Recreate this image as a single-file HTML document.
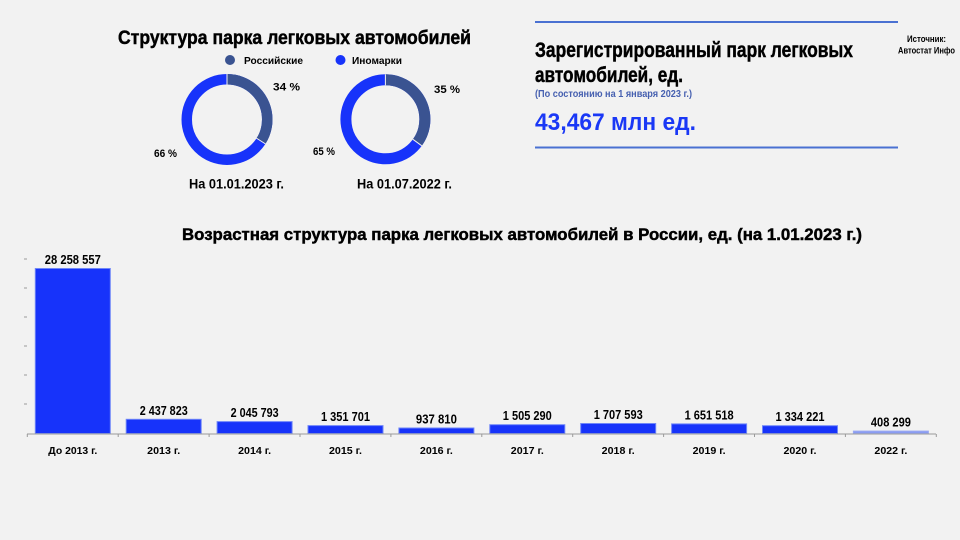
<!DOCTYPE html>
<html><head><meta charset="utf-8"><style>
html,body{margin:0;padding:0;background:#f2f2f2;}
svg{display:block;}
text{font-family:"Liberation Sans",sans-serif;font-weight:bold;fill:#000;}
.heavy{stroke:#000;stroke-width:0.45;}
</style></head><body>
<svg width="960" height="540" viewBox="0 0 960 540" xmlns="http://www.w3.org/2000/svg">
<rect width="960" height="540" fill="#f2f2f2"/>

<!-- Top-left title -->
<text class="heavy" x="118" y="44" font-size="19" textLength="353" lengthAdjust="spacingAndGlyphs">Структура парка легковых автомобилей</text>

<!-- Legend -->
<circle cx="230" cy="60" r="5" fill="#3a5391"/>
<text x="244" y="64" font-size="10.5" textLength="59" lengthAdjust="spacingAndGlyphs">Российские</text>
<circle cx="340.5" cy="60" r="5" fill="#1733fa"/>
<text x="352" y="64" font-size="10.5" textLength="50" lengthAdjust="spacingAndGlyphs">Иномарки</text>

<!-- Donut 1 -->
<circle cx="227" cy="119.5" r="40.25" fill="none" stroke="#1733fa" stroke-width="10.5"/>
<circle cx="227" cy="119.5" r="40.25" fill="none" stroke="#3a5391" stroke-width="10.5" stroke-dasharray="85.99 300" transform="rotate(-90 227 119.5)"/>
<line x1="227" y1="74" x2="227" y2="84.5" stroke="#f2f2f2" stroke-width="1"/>
<line x1="256.55" y1="138.25" x2="265.42" y2="143.88" stroke="#f2f2f2" stroke-width="1"/>
<text x="273" y="90.5" font-size="11" textLength="27" lengthAdjust="spacingAndGlyphs">34 %</text>
<text x="154" y="157" font-size="11" textLength="23" lengthAdjust="spacingAndGlyphs">66 %</text>
<text x="189" y="188.5" font-size="14" textLength="95" lengthAdjust="spacingAndGlyphs">На 01.01.2023 г.</text>

<!-- Donut 2 -->
<circle cx="385.4" cy="119.3" r="39.5" fill="none" stroke="#1733fa" stroke-width="11"/>
<circle cx="385.4" cy="119.3" r="39.5" fill="none" stroke="#3a5391" stroke-width="11" stroke-dasharray="86.86 300" transform="rotate(-90 385.4 119.3)"/>
<line x1="385.4" y1="74.3" x2="385.4" y2="85.3" stroke="#f2f2f2" stroke-width="1"/>
<line x1="412.9" y1="139.3" x2="421.8" y2="145.8" stroke="#f2f2f2" stroke-width="1"/>
<text x="434" y="93" font-size="11" textLength="26" lengthAdjust="spacingAndGlyphs">35 %</text>
<text x="313" y="155" font-size="11" textLength="22" lengthAdjust="spacingAndGlyphs">65 %</text>
<text x="357" y="188.5" font-size="14" textLength="95" lengthAdjust="spacingAndGlyphs">На 01.07.2022 г.</text>

<!-- Right panel -->
<rect x="535" y="21" width="363" height="2" fill="#4a71d2"/>
<rect x="535" y="146.5" width="363" height="2" fill="#4a71d2"/>
<text class="heavy" x="535" y="57" font-size="21" textLength="318" lengthAdjust="spacingAndGlyphs">Зарегистрированный парк легковых</text>
<text class="heavy" x="535" y="82" font-size="21" textLength="148" lengthAdjust="spacingAndGlyphs">автомобилей, ед.</text>
<text x="535" y="97" font-size="10" style="fill:#4660b0" textLength="157" lengthAdjust="spacingAndGlyphs">(По состоянию на 1 января 2023 г.)</text>
<text x="535" y="130" font-size="24" style="fill:#1a38f6" textLength="161" lengthAdjust="spacingAndGlyphs">43,467 млн ед.</text>

<text x="907" y="42" font-size="9" textLength="39" lengthAdjust="spacingAndGlyphs">Источник:</text>
<text x="898" y="53.5" font-size="9" textLength="57" lengthAdjust="spacingAndGlyphs">Автостат Инфо</text>

<!-- Bar chart title -->
<text class="heavy" x="182" y="240" font-size="17" textLength="680" lengthAdjust="spacingAndGlyphs">Возрастная структура парка легковых автомобилей в России, ед. (на 1.01.2023 г.)</text>

<!-- Y ticks -->
<g stroke="#9a9a9a" stroke-width="1">
<line x1="24" y1="259" x2="27" y2="259"/>
<line x1="24" y1="288" x2="27" y2="288"/>
<line x1="24" y1="317" x2="27" y2="317"/>
<line x1="24" y1="346" x2="27" y2="346"/>
<line x1="24" y1="375" x2="27" y2="375"/>
<line x1="24" y1="404" x2="27" y2="404"/>
</g>

<!-- Bars -->
<g stroke="#6f86f8" stroke-width="1">
<rect x="35.3" y="268.5" width="75" height="165" fill="#1733fa"/>
<rect x="126.2" y="419.3" width="75" height="14.2" fill="#1733fa"/>
<rect x="217.1" y="421.6" width="75" height="11.9" fill="#1733fa"/>
<rect x="308" y="425.6" width="75" height="7.9" fill="#1733fa"/>
<rect x="398.9" y="428" width="75" height="5.5" fill="#1733fa"/>
<rect x="489.8" y="424.7" width="75" height="8.8" fill="#1733fa"/>
<rect x="580.7" y="423.5" width="75" height="10" fill="#1733fa"/>
<rect x="671.6" y="423.9" width="75" height="9.6" fill="#1733fa"/>
<rect x="762.5" y="425.7" width="75" height="7.8" fill="#1733fa"/>
<rect x="853.4" y="431.1" width="75" height="2.4" fill="#8a9cf2" stroke="#9aa9f3"/>
</g>

<!-- X axis -->
<g stroke="#9a9a9a" stroke-width="1">
<line x1="27" y1="434" x2="936" y2="434"/>
<line x1="27.3" y1="434" x2="27.3" y2="437"/>
<line x1="118.2" y1="434" x2="118.2" y2="437"/>
<line x1="209.1" y1="434" x2="209.1" y2="437"/>
<line x1="300" y1="434" x2="300" y2="437"/>
<line x1="390.9" y1="434" x2="390.9" y2="437"/>
<line x1="481.8" y1="434" x2="481.8" y2="437"/>
<line x1="572.7" y1="434" x2="572.7" y2="437"/>
<line x1="663.6" y1="434" x2="663.6" y2="437"/>
<line x1="754.5" y1="434" x2="754.5" y2="437"/>
<line x1="845.4" y1="434" x2="845.4" y2="437"/>
<line x1="936.3" y1="434" x2="936.3" y2="437"/>
</g>

<!-- Value labels -->
<g font-size="12.5" text-anchor="middle">
<text x="72.8" y="264" textLength="56" lengthAdjust="spacingAndGlyphs">28 258 557</text>
<text x="163.7" y="414.8" textLength="48" lengthAdjust="spacingAndGlyphs">2 437 823</text>
<text x="254.6" y="417.1" textLength="48" lengthAdjust="spacingAndGlyphs">2 045 793</text>
<text x="345.5" y="421.1" textLength="49" lengthAdjust="spacingAndGlyphs">1 351 701</text>
<text x="436.4" y="423.5" textLength="41" lengthAdjust="spacingAndGlyphs">937 810</text>
<text x="527.3" y="420.2" textLength="49" lengthAdjust="spacingAndGlyphs">1 505 290</text>
<text x="618.2" y="419" textLength="49" lengthAdjust="spacingAndGlyphs">1 707 593</text>
<text x="709.1" y="419.4" textLength="49" lengthAdjust="spacingAndGlyphs">1 651 518</text>
<text x="800" y="421.2" textLength="49" lengthAdjust="spacingAndGlyphs">1 334 221</text>
<text x="890.9" y="426.6" textLength="40" lengthAdjust="spacingAndGlyphs">408 299</text>
</g>

<!-- Category labels -->
<g font-size="10.5" text-anchor="middle">
<text x="72.8" y="454" textLength="49" lengthAdjust="spacingAndGlyphs">До 2013 г.</text>
<text x="163.7" y="454" textLength="33" lengthAdjust="spacingAndGlyphs">2013 г.</text>
<text x="254.6" y="454" textLength="33" lengthAdjust="spacingAndGlyphs">2014 г.</text>
<text x="345.5" y="454" textLength="33" lengthAdjust="spacingAndGlyphs">2015 г.</text>
<text x="436.4" y="454" textLength="33" lengthAdjust="spacingAndGlyphs">2016 г.</text>
<text x="527.3" y="454" textLength="33" lengthAdjust="spacingAndGlyphs">2017 г.</text>
<text x="618.2" y="454" textLength="33" lengthAdjust="spacingAndGlyphs">2018 г.</text>
<text x="709.1" y="454" textLength="33" lengthAdjust="spacingAndGlyphs">2019 г.</text>
<text x="800" y="454" textLength="33" lengthAdjust="spacingAndGlyphs">2020 г.</text>
<text x="890.9" y="454" textLength="33" lengthAdjust="spacingAndGlyphs">2022 г.</text>
</g>
</svg>
</body></html>
